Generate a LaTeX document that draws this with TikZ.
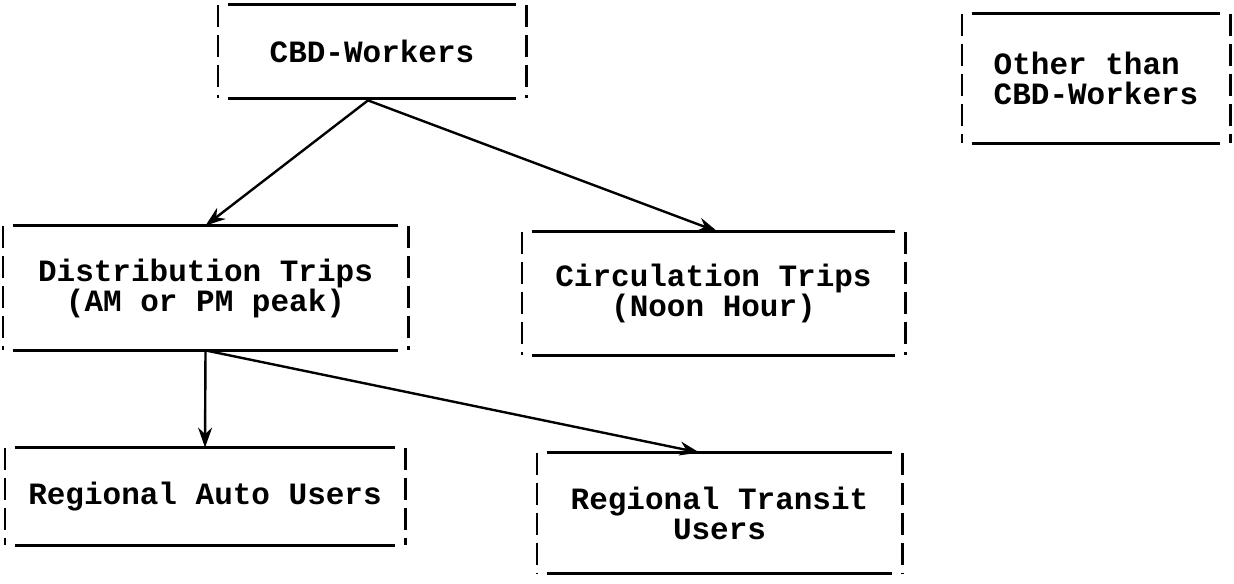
\documentclass[tikz,border=0pt]{standalone}
\usepackage{fontspec}
\setmonofont{Liberation Mono}
\usetikzlibrary{arrows.meta,positioning}

\begin{document}
\begin{tikzpicture}
                [x=0.5pt, y=-0.5pt, >={Stealth[length=10pt,width=7pt]},
                box/.style={inner sep=0pt, align=center,
                    font=\ttfamily\bfseries\fontsize{15.5}{15}\selectfont},
                rule/.style={line width=1.4pt},
                side/.style={line width=1.1pt, dash pattern=on 11pt off 4pt},
                link/.style={->, line width=1.2pt},
                ]
                \useasboundingbox (0,0) rectangle (1234,583);

                \node[box, minimum width=154pt, minimum height=46.5pt]
                    (cbd) at (372,51.5) {CBD-Workers};
                \node[box, align=left, minimum width=134pt, minimum height=64.5pt]
                    (other) at (1096,78.5) {Other than\\CBD-Workers};
                \node[box, minimum width=202.5pt, minimum height=62pt]
                    (dist) at (205.5,288) {Distribution Trips\\(AM or PM peak)};
                \node[box, minimum width=191.5pt, minimum height=61.5pt]
                    (circ) at (713.5,293.5) {Circulation Trips\\(Noon Hour)};
                \node[box, minimum width=200pt, minimum height=48.5pt]
                    (auto) at (205,496.5) {Regional Auto Users};
                \node[box, minimum width=182.5pt, minimum height=60pt]
                    (transit) at (719.5,513) {Regional Transit\\Users};

                % frames: solid top and bottom, broken sides
                \foreach \n in {cbd,other,dist,circ,auto,transit} {
                    \draw[rule] ([xshift=5pt]\n.north west) -- ([xshift=-5pt]\n.north east);
                    \draw[rule] ([xshift=5pt]\n.south west) -- ([xshift=-5pt]\n.south east);
                    \draw[side] (\n.north west) -- (\n.south west);
                    \draw[side] (\n.north east) -- (\n.south east);
                }

                \draw[link] ([xshift=-2pt,yshift=-1pt]cbd.south) -- (dist.north);
                \draw[link] ([xshift=-2pt,yshift=-1pt]cbd.south) -- ([xshift=2pt]circ.north);
                \draw[link] (dist.south) -- (auto.north);
                \draw[link] (dist.south) -- ([xshift=-10pt]transit.north);
            \end{tikzpicture}
\end{document}
